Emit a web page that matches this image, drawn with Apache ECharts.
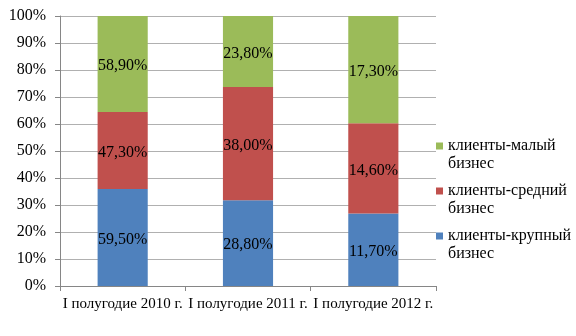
<!DOCTYPE html>
<html><head><meta charset="utf-8">
<script src="https://cdn.jsdelivr.net/npm/echarts@6/dist/echarts.min.js"></script>
<style>html,body{margin:0;padding:0;background:#fff}#c{width:576px;height:336px}</style>
</head><body><div id="c"></div>
<script>
var categories = ['I полугодие 2010 г.', 'I полугодие 2011 г.', 'I полугодие 2012 г.'];
var seriesNames = ['клиенты-крупный бизнес', 'клиенты-средний бизнес', 'клиенты-малый бизнес'];
var large = [59.5, 28.8, 11.7];
var medium = [47.3, 38.0, 14.6];
var small = [58.9, 23.8, 17.3];
var yTicks = [0, 10, 20, 30, 40, 50, 60, 70, 80, 90, 100];

var raw = [large, medium, small];
var colors = ['#4F81BD', '#C0504D', '#9BBB59'];
var totals = categories.map(function (_, i) { return large[i] + medium[i] + small[i]; });
var font = 'Liberation Serif';

function fmt(v) { return v.toFixed(2).replace('.', ',') + '%'; }

var series = raw.map(function (arr, s) {
  return {
    name: seriesNames[s],
    type: 'bar',
    stack: 'total',
    barWidth: '40%',
    itemStyle: { color: colors[s] },
    label: {
      show: true, position: 'inside', color: '#000', fontFamily: font, fontSize: 16, offset: [0, 2],
      formatter: function (p) { return fmt(arr[p.dataIndex]); }
    },
    data: arr.map(function (v, i) { return v / totals[i] * 100; })
  };
});

var chart = echarts.init(document.getElementById('c'));
chart.setOption({
  animation: false,
  grid: { left: 60, right: 140, top: 16, bottom: 50 },
  legend: {
    orient: 'vertical', left: 431, top: 114,
    data: [seriesNames[2], seriesNames[1], seriesNames[0]],
    icon: 'rect', itemWidth: 7, itemHeight: 7, itemGap: -9,
    formatter: function (n) { var p = n.split(' '); return '{p| }\n{a|' + p[0] + '}\n{a|' + p[1] + '}'; },
    textStyle: {
      fontFamily: font, fontSize: 16, color: '#000',
      rich: {
        p: { height: 18, lineHeight: 18, fontSize: 16, fontFamily: font },
        a: { height: 18, lineHeight: 18, fontSize: 16, fontFamily: font, color: '#000' }
      }
    }
  },
  xAxis: {
    type: 'category', data: categories,
    axisLine: { lineStyle: { color: '#868686' } },
    axisTick: { show: true, length: 5, lineStyle: { color: '#868686' } },
    axisLabel: { color: '#000', fontFamily: font, fontSize: 15, margin: 11, interval: 0 }
  },
  yAxis: {
    type: 'value', min: 0, max: 100, interval: 10,
    axisLine: { show: true, lineStyle: { color: '#868686' } },
    axisTick: { show: true, length: 5, lineStyle: { color: '#868686' } },
    splitLine: { lineStyle: { color: '#B0B0B0' } },
    axisLabel: { color: '#000', fontFamily: font, fontSize: 16, margin: 14,
      formatter: function (v) { return yTicks.indexOf(v) >= 0 ? v + '%' : ''; } }
  },
  series: series
});
</script>
</body></html>
